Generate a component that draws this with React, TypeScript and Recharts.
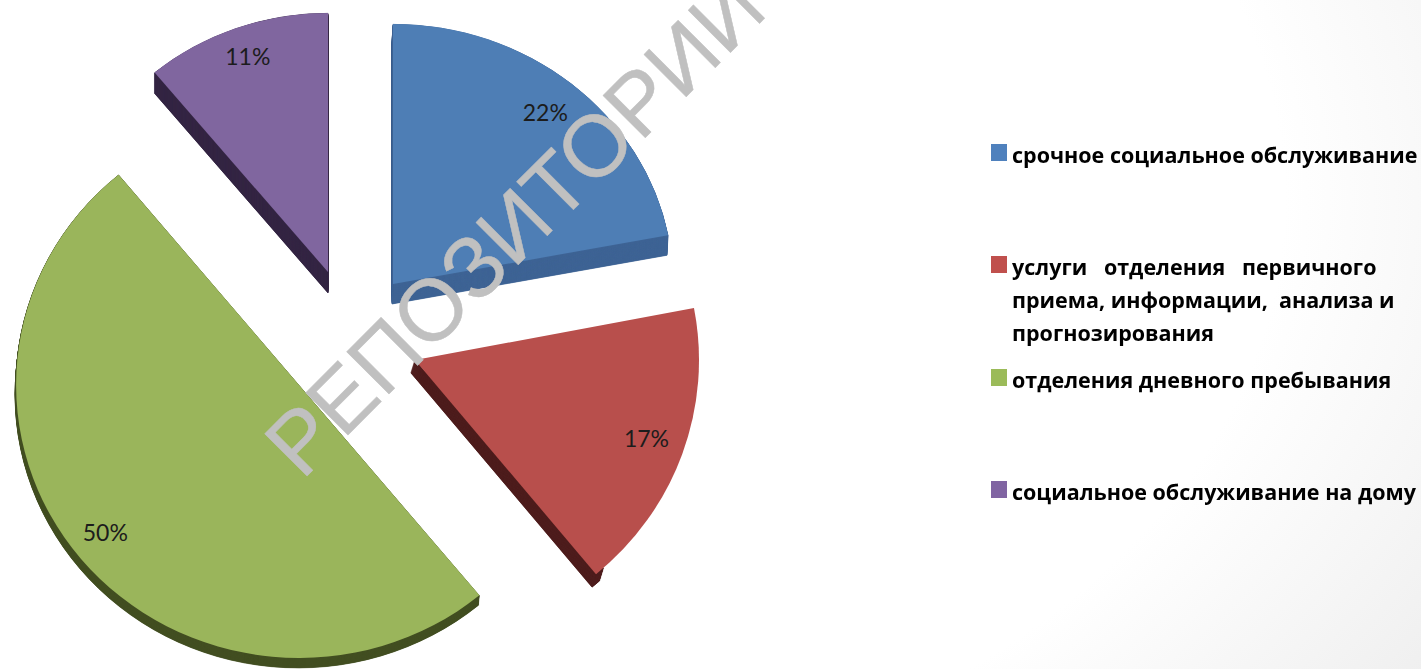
import { Legend, Pie, PieChart, Sector } from "recharts";

const names = [
  "срочное социальное обслуживание",
  "услуги   отделения   первичного приема, информации,  анализа и прогнозирования",
  "отделения дневного пребывания",
  "социальное обслуживание на дому",
];
const shares = [22, 17, 50, 11];
const legendLines = [
  ["срочное социальное обслуживание"],
  ["услуги   отделения   первичного", "приема, информации,  анализа и", "прогнозирования"],
  ["отделения дневного пребывания"],
  ["социальное обслуживание на дому"],
];
const watermark = "РЕПОЗИТОРИЙ";

const topColors = ["#4E7EB5", "#B84F4C", "#9AB55B", "#80669F"];
const sideColors = ["#3F6595", "#4F1E1E", "#434F22", "#362845"];
const legendColors = ["#4F81BD", "#C0504D", "#9BBB59", "#8064A2"];

// exploded slices: apex on the page, tilted radii, offset of the 3D side
const apexes = [
  [393, 284],
  [415, 360],
  [299, 385],
  [328, 272],
];
const radii = [
  [280, 260],
  [284, 278],
  [283, 273],
  [272, 259],
];
const sideOffsets = [
  [-1, 20],
  [-4, 13],
  [-1, 10],
  [0, 21],
];
// the red slice only shows its side along the straight edge
const sideSweeps = [360, 2, 360, 360];
const labelNudges = [
  [-3, 2],
  [-1, -4],
  [-4, -4],
  [0, -4],
];
const legendTops = [138, 250, 363, 475];

const BASE_R = 283;
const rows = names.map((name, i) => ({ name, value: shares[i], fill: topColors[i] }));

function ExplodedSlice(props: any) {
  const { cx, cy, startAngle, endAngle, name } = props;
  const i = names.indexOf(name);
  const [ax, ay] = apexes[i];
  const [rx, ry] = radii[i];
  const [sx, sy] = sideOffsets[i];
  const steps = Math.max(Math.abs(sx), Math.abs(sy)) * 3;
  const sector = { cx, cy, innerRadius: 0, outerRadius: BASE_R, endAngle };
  const sideStart = Math.min(startAngle, endAngle + sideSweeps[i]);
  const at = (dx: number, dy: number) =>
    `translate(${ax + dx} ${ay + dy}) scale(${rx / BASE_R} ${ry / BASE_R}) translate(${-cx} ${-cy})`;
  const side = [];
  for (let s = steps; s > 0; s--) {
    side.push(
      <g key={s} transform={at((sx * s) / steps, (sy * s) / steps)}>
        <Sector {...sector} startAngle={sideStart} fill={sideColors[i]} stroke={sideColors[i]} strokeWidth={0.6} />
      </g>
    );
  }
  return (
    <g>
      {side}
      <g transform={at(0, 0)}>
        <Sector {...sector} startAngle={startAngle} fill={topColors[i]} stroke="none" />
      </g>
    </g>
  );
}

function sliceLabel(props: any) {
  const { midAngle, name, value } = props;
  const i = names.indexOf(name);
  const rad = (midAngle * Math.PI) / 180;
  const x = apexes[i][0] + 0.87 * radii[i][0] * Math.cos(rad) + labelNudges[i][0];
  const y = apexes[i][1] - 0.87 * radii[i][1] * Math.sin(rad) + labelNudges[i][1];
  return (
    <text
      key={name}
      x={x}
      y={y}
      textAnchor="middle"
      dominantBaseline="central"
      fontFamily="Lato"
      fontSize={23}
      fill="#1c1c1c"
    >
      {value}%
    </text>
  );
}

function SideLegend() {
  return (
    <div style={{ position: "relative", width: 430, height: 400, filter: "blur(0.6px)" }}>
      {legendLines.map((lines, i) => (
        <div key={i} style={{ position: "absolute", left: 0, top: legendTops[i] - 130 }}>
          <span
            style={{
              position: "absolute",
              left: 0,
              top: 6,
              width: 16,
              height: 17,
              background: legendColors[i],
            }}
          />
          {lines.map((line) => (
            <div
              key={line}
              style={{
                marginLeft: 21,
                height: 33,
                lineHeight: "33px",
                whiteSpace: "pre",
                fontFamily: "Open Sans",
                fontWeight: 700,
                fontSize: 21.5,
                color: "#000",
              }}
            >
              {line}
            </div>
          ))}
        </div>
      ))}
    </div>
  );
}

export default function App() {
  return (
    <div
      style={{
        position: "absolute",
        left: 0,
        top: 0,
        width: 1421,
        height: 669,
        overflow: "hidden",
        background: "radial-gradient(ellipse 1300px 900px at 400px 200px, #ffffff 68%, #ececec 100%)",
      }}
    >
      <PieChart width={1421} height={669} margin={{ top: 0, right: 0, bottom: 0, left: 0 }}>
        <Pie
          data={rows}
          dataKey="value"
          nameKey="name"
          cx={350}
          cy={330}
          outerRadius={BASE_R}
          startAngle={90}
          endAngle={-270}
          stroke="none"
          shape={ExplodedSlice}
          label={sliceLabel}
          labelLine={false}
          isAnimationActive={false}
        />
        <Legend
          content={<SideLegend />}
          layout="vertical"
          wrapperStyle={{ position: "absolute", left: 991, top: 130, width: 430 }}
        />
      </PieChart>
      <svg
        width={1421}
        height={669}
        style={{ position: "absolute", left: 0, top: 0, pointerEvents: "none" }}
      >
        <text
          transform="translate(302 481) rotate(-45)"
          fontFamily="Liberation Sans"
          fontSize={87}
          fill="#c0c0c0"
          stroke="#c0c0c0"
          strokeWidth={0.5}
        >
          {watermark}
        </text>
      </svg>
    </div>
  );
}
